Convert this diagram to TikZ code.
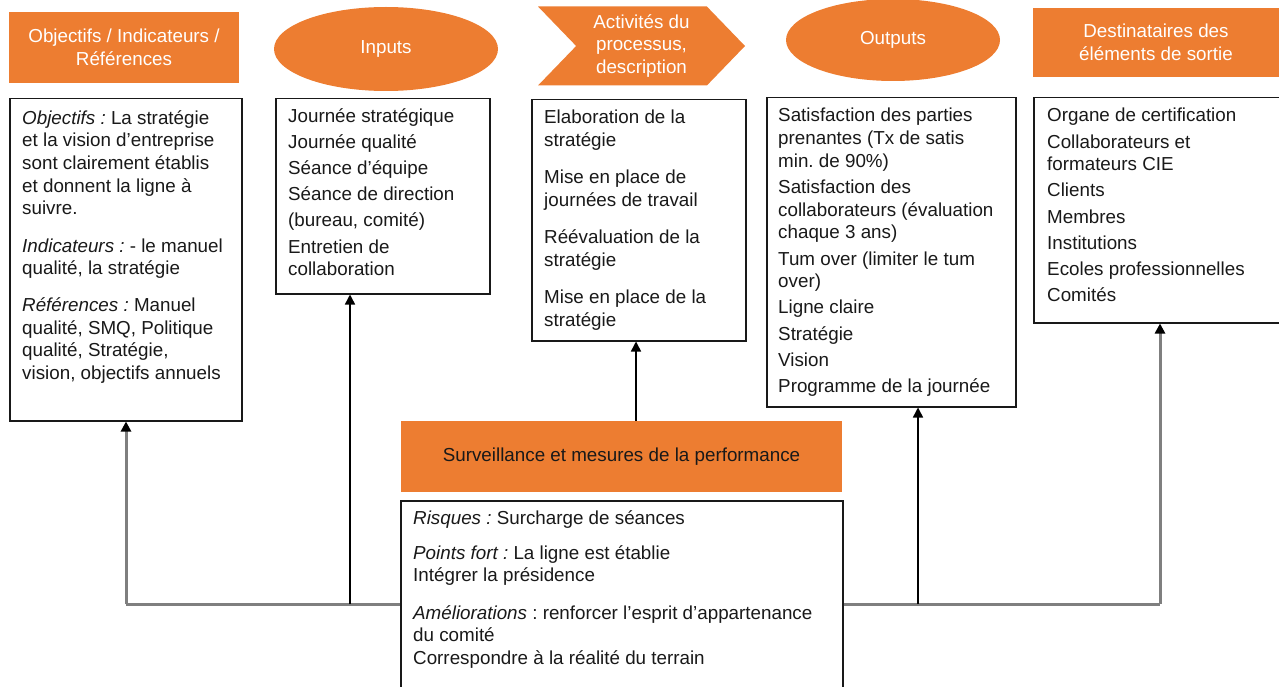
\documentclass[tikz,border=0pt]{standalone}
\usepackage{fontspec}
\setmainfont{Liberation Sans}
\usetikzlibrary{arrows.meta,shapes.geometric,shapes.symbols}
\definecolor{orng}{HTML}{ED7D31}
\definecolor{lgray}{HTML}{7F7F7F}
\pgfdeclarelayer{bg}
\pgfsetlayers{bg,main}
\frenchspacing
\tikzset{
    every node/.style={inner sep=0pt, font=\fontsize{18.8}{22.7}\selectfont}
}
\tikzset{head/.style={fill=orng, text=white, align=center}}
\tikzset{box/.style={draw=black!90, line width=1.5pt, fill=white, anchor=north west}}
\tikzset{txt/.style={anchor=north west, align=left, text=black!90}}
\tikzset{arr/.style={line width=1.5pt, -{Triangle[width=10pt,length=10pt]}}}
\tikzset{garr/.style={draw=lgray, line width=3pt, -{Triangle[width=10pt,length=10pt,color=black]}}}

\begin{document}
\begin{tikzpicture}[x=1pt,y=-1pt]
  \clip (0,0) rectangle (1279,687);

  \node[head, minimum width=230pt, minimum height=71pt] (hobj) at (124,47.5) {Objectifs / Indicateurs /\\Références};
  \node[head, ellipse, minimum width=224pt, minimum height=84pt] (hinp) at (386,49) {Inputs};
  \node[head, signal, signal to=east, signal from=west, signal pointer angle=92,
        minimum width=207pt, minimum height=79pt] (hact) at (641.5,46) {Activités du\\processus,\\description};
  \node[head, ellipse, minimum width=214pt, minimum height=82pt] (hout) at (893,40) {Outputs};
  \node[head, minimum width=246pt, minimum height=69pt] (hdest) at (1156,42.5) {Destinataires des\\éléments de sortie};

  \node[box, minimum width=232pt, minimum height=322pt] (obj) at (9,98) {};
  \node[box, minimum width=214pt, minimum height=195pt] (inp) at (275,98) {};
  \node[box, minimum width=214pt, minimum height=241pt] (act) at (531,99) {};
  \node[box, minimum width=249pt, minimum height=309pt] (outp) at (766,97) {};
  \node[box, minimum width=250pt, minimum height=225pt] (dest) at (1033,97) {};

  \node[fill=orng, text=black!90, minimum width=441pt, minimum height=71pt] (surv) at (621.5,456.5) {Surveillance et mesures de la performance};
  \node[box, minimum width=442pt, minimum height=200pt] (perf) at (400,500) {};

  \node[txt] (objt) at (22,110) {\textit{Objectifs :} La stratégie\\
    et la vision d’entreprise\\
    sont clairement établis\\
    et donnent la ligne à\\
    suivre.\\[14.5pt]
    \textit{Indicateurs :} - le manuel\\
    qualité, la stratégie\\[14pt]
    \textit{Références :} Manuel\\
    qualité, SMQ, Politique\\
    qualité, Stratégie,\\
    vision, objectifs annuels};
  \node[txt] (inpt) at (288,108) {Journée stratégique\\[3.5pt]
    Journée qualité\\[3.5pt]
    Séance d’équipe\\[3.5pt]
    Séance de direction\\[3.5pt]
    (bureau, comité)\\[3.5pt]
    Entretien de\\
    collaboration};
  \node[txt] (actt) at (544,110) {Elaboration de la\\
    stratégie\\[14.5pt]
    Mise en place de\\
    journées de travail\\[14.5pt]
    Réévaluation de la\\
    stratégie\\[14.5pt]
    Mise en place de la\\
    stratégie};
  \node[txt] (outt) at (778,108) {Satisfaction des parties\\
    prenantes (Tx de satis\\
    min. de 90\%)\\[3.5pt]
    Satisfaction des\\
    collaborateurs (évaluation\\
    chaque 3 ans)\\[3.5pt]
    Tum over (limiter le tum\\
    over)\\[3.5pt]
    Ligne claire\\[3.5pt]
    Stratégie\\[3.5pt]
    Vision\\[3.5pt]
    Programme de la journée};
  \node[txt] (destt) at (1047,108) {Organe de certification\\[3.5pt]
    Collaborateurs et\\
    formateurs CIE\\[3.5pt]
    Clients\\[3.5pt]
    Membres\\[3.5pt]
    Institutions\\[3.5pt]
    Ecoles professionnelles\\[3.5pt]
    Comités};
  \node[txt] (perft) at (413,510) {\textit{Risques :} Surcharge de séances\\[12.5pt]
    \textit{Points fort :} La ligne est établie\\
    Intégrer la présidence\\[14.5pt]
    \textit{Améliorations} : renforcer l’esprit d’appartenance\\
    du comité\\
    Correspondre à la réalité du terrain};

  \coordinate (jl) at (126,604);
  \coordinate (jr) at (1160,604);
  \coordinate (jin) at (350,604);
  \coordinate (jout) at (918,604);
  \coordinate (sact) at (636,421);

  \begin{pgfonlayer}{bg}
    \draw[draw=lgray, line width=3pt] (jl) -- (jr);
    \draw[garr] (jl) -- (jl |- obj.south);
    \draw[garr] (jr) -- (jr |- dest.south);
    \draw[arr] (jin) -- (jin |- inp.south);
    \draw[arr] (jout) -- (jout |- outp.south);
    \draw[arr] (sact) -- (sact |- act.south);
  \end{pgfonlayer}

\end{tikzpicture}
\end{document}
